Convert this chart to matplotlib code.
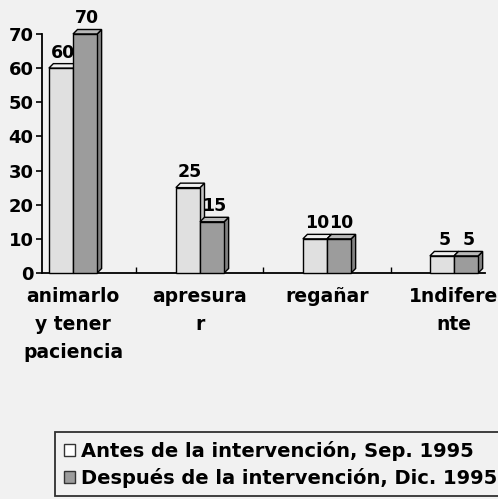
import matplotlib
matplotlib.use("Agg")
import matplotlib.pyplot as plt
from matplotlib.patches import Polygon, Rectangle

categories = ["animarlo\ny tener\npaciencia", "apresura\nr", "regañar", "1ndifere\nnte"]
antes = [60, 25, 10, 5]
despues = [70, 15, 10, 5]
series_names = ["Antes de la intervención, Sep. 1995",
                "Después de la intervención, Dic. 1995"]
yticks = [0, 10, 20, 30, 40, 50, 60, 70]

W, H = 498, 499
fig = plt.figure(figsize=(W / 100, H / 100), dpi=100)
bg = "#f1f1f1"
fig.patch.set_facecolor(bg)

left, bottom, right, top = 42, 273, 485, 34
ax = fig.add_axes([left / W, 1 - bottom / H, (right - left) / W, (bottom - top) / H])
ax.set_facecolor(bg)
ax.set_xlim(-0.244, 3.244)
ax.set_ylim(0, 70)

font = dict(family="DejaVu Sans", weight="bold")

bw = 0.19
px_x = (3.244 + 0.244) / (right - left)
px_y = 70 / (bottom - top)
dx, dy = 4.5 * px_x, 4.5 * px_y

light_front, light_top, light_side = "#e0e0e0", "#eeeeee", "#c4c4c4"
dark_front, dark_top, dark_side = "#9c9c9c", "#b8b8b8", "#828282"


def bar3d(x0, h, front, topc, side, z):
    x1 = x0 + bw
    ax.add_patch(Polygon([(x1, 0), (x1 + dx, dy), (x1 + dx, h + dy), (x1, h)],
                         closed=True, facecolor=side, edgecolor="black", lw=1,
                         zorder=z, clip_on=False))
    ax.add_patch(Polygon([(x0, h), (x1, h), (x1 + dx, h + dy), (x0 + dx, h + dy)],
                         closed=True, facecolor=topc, edgecolor="black", lw=1,
                         zorder=z, clip_on=False))
    ax.add_patch(Rectangle((x0, 0), bw, h, facecolor=front, edgecolor="black",
                           lw=1, zorder=z + 0.1, clip_on=False))


for i, (a, d) in enumerate(zip(antes, despues)):
    bar3d(i - bw, a, light_front, light_top, light_side, 3 + i)
    bar3d(i, d, dark_front, dark_top, dark_side, 3.5 + i)
    ax.annotate(str(a), (i - bw / 2 + dx / 2, a + dy), xytext=(0, 1.5),
                textcoords="offset points", ha="center", va="bottom",
                fontsize=12.5, zorder=20, annotation_clip=False, **font)
    ax.annotate(str(d), (i + bw / 2 + dx / 2, d + dy), xytext=(0, 1.5),
                textcoords="offset points", ha="center", va="bottom",
                fontsize=12.5, zorder=20, annotation_clip=False, **font)

for s in ["top", "right"]:
    ax.spines[s].set_visible(False)
ax.spines["left"].set_linewidth(1.3)
ax.spines["bottom"].set_linewidth(1.3)

ax.set_yticks(yticks)
ax.set_yticklabels([str(v) for v in yticks], fontsize=13, **font)
ax.tick_params(axis="y", direction="out", length=4, width=1.2, pad=2)

ax.set_xticks([0.5, 1.5, 2.5], minor=True)
ax.tick_params(axis="x", which="minor", direction="in", length=4, width=1)
ax.set_xticks(range(len(categories)))
ax.set_xticklabels(categories, fontsize=13.5, linespacing=1.6, **font)
ax.tick_params(axis="x", which="major", length=0, pad=10)

handles = [Rectangle((0, 0), 1, 1, facecolor="white", edgecolor="#333333", lw=1),
           Rectangle((0, 0), 1, 1, facecolor="#9c9c9c", edgecolor="#333333", lw=1)]
leg = fig.legend(handles, series_names, loc="upper left",
                 bbox_to_anchor=(55 / W, 1 - 432 / H),
                 prop=dict(family="DejaVu Sans", weight="bold", size=14),
                 frameon=True, fancybox=False, handlelength=0.6,
                 handleheight=0.6, handletextpad=0.3, borderpad=0.45,
                 labelspacing=0.35, borderaxespad=0)
leg.get_frame().set_edgecolor("black")
leg.get_frame().set_linewidth(1.3)
leg.get_frame().set_facecolor(bg)

fig.savefig("out.png", dpi=100, facecolor=bg)
